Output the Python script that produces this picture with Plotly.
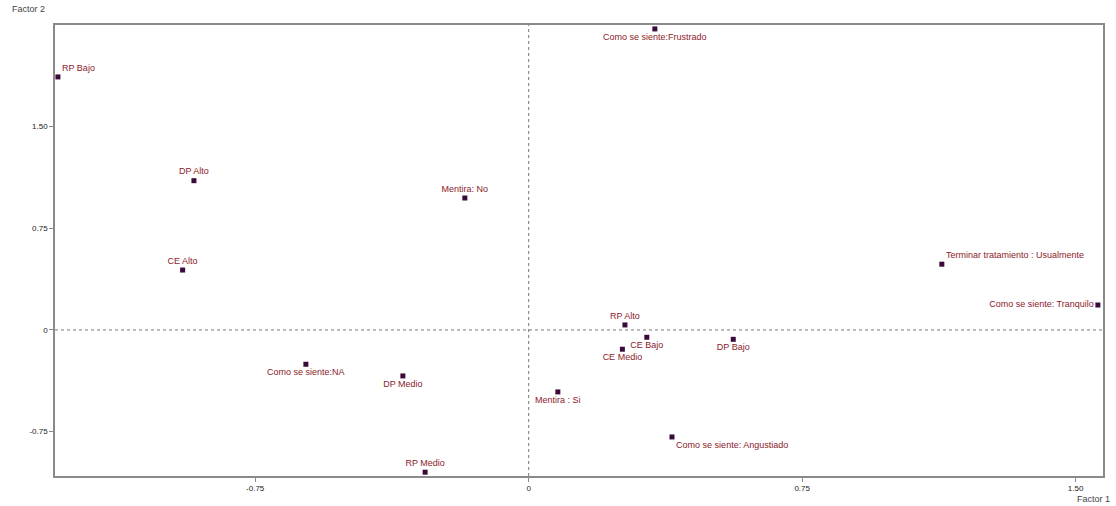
import plotly.graph_objects as go

labels = [
    "RP Bajo", "DP Alto", "CE Alto", "Mentira: No", "Como se siente:Frustrado",
    "Terminar tratamiento : Usualmente", "Como se siente: Tranquilo", "RP Alto",
    "CE Bajo", "CE Medio", "DP Bajo", "Como se siente:NA", "DP Medio",
    "Mentira : Si", "Como se siente: Angustiado", "RP Medio",
]
factor1 = [-1.291, -0.918, -0.949, -0.175, 0.346, 1.133, 1.561, 0.264,
           0.324, 0.257, 0.561, -0.611, -0.345, 0.080, 0.393, -0.284]
factor2 = [1.866, 1.101, 0.442, 0.973, 2.220, 0.485, 0.184, 0.037,
           -0.054, -0.142, -0.069, -0.253, -0.339, -0.457, -0.789, -1.049]
text_pos = ["top right", "top center", "top center", "top center", "bottom center",
            "top right", "middle left", "top center", "bottom center", "bottom center",
            "bottom center", "bottom center", "bottom center", "bottom center",
            "bottom right", "top center"]

tick_vals = [-0.75, 0, 0.75, 1.50]
tick_text = ["-0.75", "0", "0.75", "1.50"]

FONT = "Liberation Sans, Arial, sans-serif"

fig = go.Figure()
fig.add_trace(go.Scatter(
    x=factor1, y=factor2, mode="markers+text",
    text=labels, textposition=text_pos,
    textfont=dict(family=FONT, size=9, color="#8b1a2a"),
    marker=dict(symbol="square", size=5, color="#3a0a3a"),
    cliponaxis=False, hoverinfo="text",
))

fig.add_shape(type="line", xref="x", yref="paper", x0=0, x1=0, y0=0, y1=1,
              line=dict(color="#777777", width=1, dash="dot"))
fig.add_shape(type="line", xref="paper", yref="y", x0=0, x1=1, y0=0, y1=0,
              line=dict(color="#777777", width=1, dash="dot"))

axis_common = dict(
    showgrid=False, zeroline=False, showline=True, mirror=True,
    linecolor="#8a8a8a", linewidth=1.5, ticks="outside", ticklen=4,
    tickcolor="#8a8a8a", tickfont=dict(family=FONT, size=8, color="#222222"),
    tickvals=tick_vals, ticktext=tick_text,
)
fig.update_xaxes(range=[-1.299, 1.575], **axis_common)
fig.update_yaxes(range=[-1.077, 2.249], **axis_common)

fig.add_annotation(text="Factor 2", xref="paper", yref="paper", x=-0.043, y=1.0,
                   yshift=16, xanchor="left", yanchor="middle", showarrow=False,
                   font=dict(family=FONT, size=9, color="#444444"))
fig.add_annotation(text="Factor 1", xref="paper", yref="paper", x=1.0, y=0,
                   xanchor="left", yanchor="top", xshift=-28, yshift=-16, showarrow=False,
                   font=dict(family=FONT, size=9, color="#444444"))

fig.update_layout(
    width=1116, height=506,
    margin=dict(l=55, r=13, t=25, b=30),
    plot_bgcolor="white", paper_bgcolor="white",
    showlegend=False,
)
fig.write_html("out.html")
